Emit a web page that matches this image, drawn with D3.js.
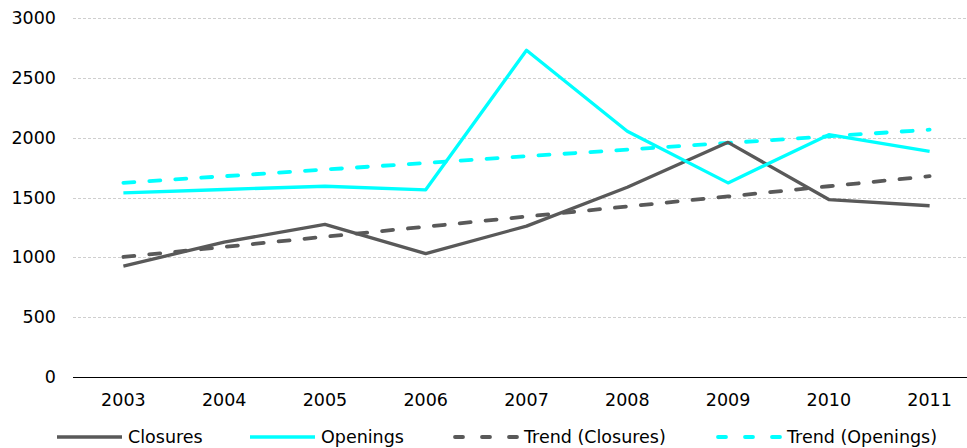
<!DOCTYPE html>
<html><head><meta charset="utf-8">
<script src="https://cdn.jsdelivr.net/npm/d3@7"></script>
<style>body{margin:0;background:#fff}svg{display:block}text{font-family:"DejaVu Sans",Verdana,sans-serif;fill:#000}</style>
</head><body><svg id="c" width="967" height="448"></svg>
<script>
const years = ["2003","2004","2005","2006","2007","2008","2009","2010","2011"];
const closures = [927,1127,1275,1031,1261,1586,1961,1483,1431];
const openings = [1539,1567,1594,1564,2730,2053,1622,2025,1886];
const trendClosures = [1003,1087,1172,1256,1341,1425,1509,1594,1678];
const trendOpenings = [1622,1678,1733,1789,1845,1900,1956,2011,2067];
const yTicks = [0,500,1000,1500,2000,2500,3000];

const FS = 17.5;
const svg = d3.select("#c");
const x = d3.scaleBand().domain(years).range([73,980]).padding(0);
const y = d3.scaleLinear().domain([0,3000]).range([377,18]);
const cx = d => x(d) + x.bandwidth()/2;

// grid
svg.append("g").selectAll("line").data(yTicks.filter(t=>t>0)).join("line")
  .attr("x1",73).attr("x2",967).attr("y1",d=>Math.round(y(d))+0.5).attr("y2",d=>Math.round(y(d))+0.5)
  .attr("stroke","#cfcfcf").attr("stroke-width",1).attr("stroke-dasharray","3,2");

// y axis labels
const yAxis = d3.axisLeft(y).tickValues(yTicks).tickFormat(d3.format("d")).tickSize(0).tickPadding(17);
const gy = svg.append("g").attr("transform","translate(73,0)").call(yAxis);
gy.select(".domain").remove();
gy.selectAll("text").attr("font-size",FS).attr("font-family","DejaVu Sans").attr("fill","#000");

// x axis
const xAxis = d3.axisBottom(x).tickSize(0).tickPadding(17);
const gx = svg.append("g").attr("transform","translate(0,377)").call(xAxis);
gx.select(".domain").attr("d","M73,0.5H967").attr("stroke","#000");
gx.selectAll("text").attr("font-size",FS).attr("font-family","DejaVu Sans").attr("fill","#000");

const series = [
  {name:"Closures", vals:closures, color:"#595959", dash:null},
  {name:"Openings", vals:openings, color:"#00FFFF", dash:null},
  {name:"Trend (Closures)", vals:trendClosures, color:"#595959", dash:"11,15"},
  {name:"Trend (Openings)", vals:trendOpenings, color:"#00FFFF", dash:"11,15"}
];
const line = d3.line().x((d,i)=>cx(years[i])).y(d=>y(d));
const drawOrder = [2,3,0,1];
drawOrder.forEach(k=>{
  const s = series[k];
  svg.append("path").attr("d",line(s.vals)).attr("fill","none")
    .attr("stroke",s.color).attr("stroke-width",s.dash?3.8:3.3)
    .attr("stroke-linejoin","round")
    .attr("stroke-linecap",s.dash?"round":"butt")
    .attr("stroke-dasharray",s.dash);
});

// legend
const legX = [57,250,453,716];
const lg = svg.append("g");
series.forEach((s,i)=>{
  const g = lg.append("g").attr("transform",`translate(${legX[i]},437)`);
  g.append("line").attr("x1",s.dash?2:0).attr("x2",65).attr("y1",0).attr("y2",0)
    .attr("stroke",s.color).attr("stroke-width",s.dash?3.8:3.3)
    .attr("stroke-linecap",s.dash?"round":"butt").attr("stroke-dasharray",s.dash?"8,19":null);
  g.append("text").attr("x",71).attr("y",0).attr("dy","0.35em").attr("font-size",FS).text(s.name);
});
</script></body></html>
